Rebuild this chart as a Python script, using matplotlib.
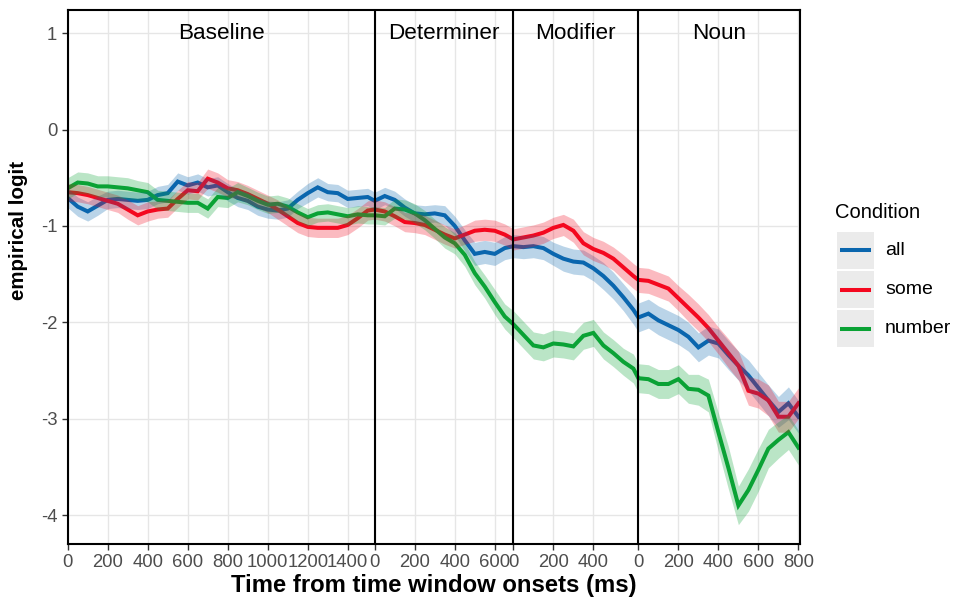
import numpy as np
import matplotlib
matplotlib.use("Agg")
import matplotlib.pyplot as plt
from matplotlib.patches import Rectangle
from matplotlib.lines import Line2D

plt.rcParams['font.family'] = ['Liberation Sans', 'DejaVu Sans']
plt.rcParams['axes.unicode_minus'] = False

# ---------------- data ----------------
windows = ["Baseline", "Determiner", "Modifier", "Noun"]
window_start = [0, 1535, 2228, 2853]      # global ms where each window begins
window_end_total = 3661                    # right end of the axis
step = 50
n_points = [31, 14, 13, 17]                # samples per window (every 50 ms)

window_ticks = [[0, 200, 400, 600, 800, 1000, 1200, 1400],
                [0, 200, 400, 600],
                [0, 200, 400],
                [0, 200, 400, 600, 800]]

conditions = ["all", "some", "number"]

all_base = [-0.71, -0.80, -0.85, -0.79, -0.73, -0.72, -0.73, -0.74, -0.73, -0.68, -0.66,
            -0.54, -0.58, -0.55, -0.60, -0.58, -0.65, -0.71, -0.74, -0.80, -0.83, -0.84,
            -0.82, -0.73, -0.66, -0.60, -0.65, -0.66, -0.72, -0.71, -0.70]
all_det = [-0.74, -0.69, -0.73, -0.81, -0.87, -0.88, -0.87, -0.89, -1.00, -1.15, -1.29,
           -1.27, -1.29, -1.23]
all_mod = [-1.21, -1.22, -1.21, -1.23, -1.29, -1.34, -1.37, -1.38, -1.44, -1.52, -1.62,
           -1.74, -1.87]
all_noun = [-1.95, -1.91, -1.98, -2.03, -2.08, -2.15, -2.26, -2.19, -2.22, -2.34, -2.45,
            -2.55, -2.68, -2.81, -2.93, -2.84, -2.98]

some_base = [-0.65, -0.66, -0.68, -0.71, -0.74, -0.77, -0.83, -0.89, -0.85, -0.83, -0.82,
             -0.72, -0.63, -0.64, -0.51, -0.55, -0.61, -0.63, -0.67, -0.72, -0.77, -0.83,
             -0.90, -0.97, -1.01, -1.02, -1.02, -1.02, -0.99, -0.92, -0.84]
some_det = [-0.83, -0.85, -0.90, -0.96, -0.97, -0.99, -1.04, -1.09, -1.13, -1.09, -1.05,
            -1.04, -1.05, -1.09]
some_mod = [-1.14, -1.12, -1.10, -1.07, -1.02, -0.99, -1.05, -1.18, -1.24, -1.28, -1.34,
            -1.43, -1.52]
some_noun = [-1.56, -1.57, -1.61, -1.65, -1.75, -1.85, -1.95, -2.06, -2.19, -2.32, -2.45,
             -2.71, -2.74, -2.81, -2.98, -2.98, -2.84]

number_base = [-0.61, -0.55, -0.56, -0.59, -0.59, -0.60, -0.61, -0.63, -0.65, -0.73, -0.74,
               -0.75, -0.76, -0.76, -0.82, -0.70, -0.71, -0.65, -0.69, -0.74, -0.78, -0.77,
               -0.80, -0.86, -0.91, -0.87, -0.86, -0.88, -0.90, -0.88, -0.89]
number_det = [-0.89, -0.90, -0.82, -0.83, -0.87, -0.94, -1.03, -1.12, -1.18, -1.30, -1.49,
              -1.63, -1.79, -1.94]
number_mod = [-2.02, -2.13, -2.24, -2.26, -2.22, -2.23, -2.25, -2.14, -2.11, -2.24, -2.32,
              -2.41, -2.48]
number_noun = [-2.58, -2.59, -2.64, -2.64, -2.59, -2.69, -2.70, -2.76, -3.14, -3.51, -3.90,
               -3.74, -3.53, -3.31, -3.22, -3.14, -3.30]

# ribbon half-widths
all_se_base = [0.10, 0.10, 0.10, 0.10, 0.09, 0.09, 0.09, 0.09, 0.09, 0.09, 0.09,
               0.09, 0.09, 0.09, 0.09, 0.09, 0.09, 0.09, 0.09, 0.09, 0.09, 0.09,
               0.09, 0.09, 0.10, 0.10, 0.09, 0.09, 0.09, 0.09, 0.09]
all_se_det = [0.09, 0.09, 0.09, 0.09, 0.09, 0.09, 0.09, 0.10, 0.10, 0.11, 0.12, 0.12, 0.12, 0.12]
all_se_mod = [0.12, 0.12, 0.12, 0.12, 0.12, 0.13, 0.13, 0.13, 0.13, 0.14, 0.14, 0.14, 0.15]
all_se_noun = [0.15, 0.15, 0.15, 0.15, 0.15, 0.15, 0.15, 0.15, 0.15, 0.15, 0.15, 0.16,
               0.16, 0.16, 0.16, 0.17, 0.17]

some_se_base = [0.09, 0.09, 0.09, 0.09, 0.09, 0.09, 0.10, 0.10, 0.10, 0.09, 0.09,
                0.09, 0.09, 0.09, 0.10, 0.10, 0.09, 0.09, 0.09, 0.09, 0.09, 0.10,
                0.10, 0.10, 0.10, 0.10, 0.10, 0.10, 0.10, 0.10, 0.10]
some_se_det = [0.10, 0.10, 0.10, 0.10, 0.10, 0.10, 0.10, 0.10, 0.10, 0.10, 0.11, 0.11, 0.11, 0.11]
some_se_mod = [0.11, 0.11, 0.11, 0.11, 0.11, 0.11, 0.12, 0.12, 0.12, 0.12, 0.12, 0.13, 0.13]
some_se_noun = [0.13, 0.13, 0.13, 0.13, 0.13, 0.14, 0.14, 0.14, 0.14, 0.15, 0.15, 0.15,
                0.15, 0.16, 0.16, 0.16, 0.16]

number_se_base = [0.11, 0.11, 0.11, 0.11, 0.11, 0.11, 0.11, 0.10, 0.10, 0.10, 0.10,
                  0.10, 0.10, 0.10, 0.10, 0.10, 0.10, 0.10, 0.09, 0.09, 0.09, 0.09,
                  0.09, 0.09, 0.09, 0.09, 0.09, 0.09, 0.09, 0.09, 0.09]
number_se_det = [0.09, 0.09, 0.10, 0.10, 0.10, 0.10, 0.10, 0.11, 0.11, 0.12, 0.12, 0.12, 0.13, 0.13]
number_se_mod = [0.14, 0.14, 0.14, 0.14, 0.14, 0.14, 0.14, 0.14, 0.14, 0.14, 0.14, 0.14, 0.15]
number_se_noun = [0.15, 0.15, 0.15, 0.15, 0.15, 0.15, 0.16, 0.17, 0.20, 0.22, 0.20, 0.22,
                  0.22, 0.20, 0.19, 0.18, 0.18]

colors = {"all": "#0A66AE", "some": "#F4081F", "number": "#0AA235"}

series = {
    "all": [all_base, all_det, all_mod, all_noun],
    "some": [some_base, some_det, some_mod, some_noun],
    "number": [number_base, number_det, number_mod, number_noun],
}
series_se = {
    "all": [all_se_base, all_se_det, all_se_mod, all_se_noun],
    "some": [some_se_base, some_se_det, some_se_mod, some_se_noun],
    "number": [number_se_base, number_se_det, number_se_mod, number_se_noun],
}

# global x positions
x_global = np.concatenate([s + np.arange(n) * step for s, n in zip(window_start, n_points)])

# ---------------- figure ----------------
W, H = 956, 602
fig = plt.figure(figsize=(W / 100, H / 100), dpi=100)
L, R, T, B = 67.7, 800, 10, 544
ax = fig.add_axes([L / W, 1 - B / H, (R - L) / W, (B - T) / H])

ax.set_xlim(0, window_end_total)
ax.set_ylim(-4.30, 1.24)

grid_c = "#E6E6E6"
for yv in range(-4, 2):
    ax.axhline(yv, color=grid_c, lw=1.0, zorder=0)

tick_pos, tick_lab = [], []
for s, tks in zip(window_start, window_ticks):
    for t in tks:
        tick_pos.append(s + t)
        tick_lab.append(str(t))
for p in tick_pos:
    ax.axvline(p, color=grid_c, lw=1.0, zorder=0)

# lines first, then ribbons (as in the reference)
for c in conditions:
    y = np.concatenate(series[c])
    ax.plot(x_global, y, color=colors[c], lw=2.9, solid_joinstyle='miter', zorder=2)
for c in conditions:
    y = np.concatenate(series[c])
    se = np.concatenate(series_se[c])
    ax.fill_between(x_global, y - se, y + se, color=colors[c], alpha=0.28, lw=0, zorder=3)

for s in window_start[1:]:
    ax.axvline(s, color="black", lw=1.5, zorder=4)

ends = window_start[1:] + [window_end_total]
for name, s, e in zip(windows, window_start, ends):
    ax.text((s + e) / 2, 1.0, name, ha="center", va="center", fontsize=16.2, color="black", zorder=5)

ax.set_xticks(tick_pos)
ax.set_xticklabels(tick_lab)
ax.set_yticks([-4, -3, -2, -1, 0, 1])
ax.set_yticklabels(["-4", "-3", "-2", "-1", "0", "1"])
ax.tick_params(axis="both", labelsize=13.3, colors="#333333", labelcolor="#4D4D4D",
               length=4, width=1)
for sp in ax.spines.values():
    sp.set_color("black")
    sp.set_linewidth(1.5)
    sp.set_zorder(6)

ax.set_xlabel("Time from time window onsets (ms)", fontsize=17.2, fontweight="bold", labelpad=2)
ax.set_ylabel("empirical logit", fontsize=14.8, fontweight="bold")
ax.yaxis.set_label_coords((28 - L) / (R - L), (B - 230) / (B - T))

# ---------------- legend ----------------
def fx(px):
    return px / W

def fy(py):
    return 1 - py / H

fig.text(fx(835), fy(213), "Condition", fontsize=14.5, ha="left", va="center")
box_tops = [231.7, 271.0, 310.3]
for c, top in zip(conditions, box_tops):
    fig.add_artist(Rectangle((fx(836.7), fy(top + 37)), 37 / W, 37 / H,
                             transform=fig.transFigure, facecolor="#EBEBEB", edgecolor="none"))
    yc = top + 18.5
    fig.add_artist(Line2D([fx(839.5), fx(871)], [fy(yc), fy(yc)], transform=fig.transFigure,
                          color=colors[c], lw=2.9, solid_capstyle="butt"))
    fig.text(fx(885), fy(yc), c, fontsize=14, ha="left", va="center")

fig.savefig("out.png", dpi=100)
